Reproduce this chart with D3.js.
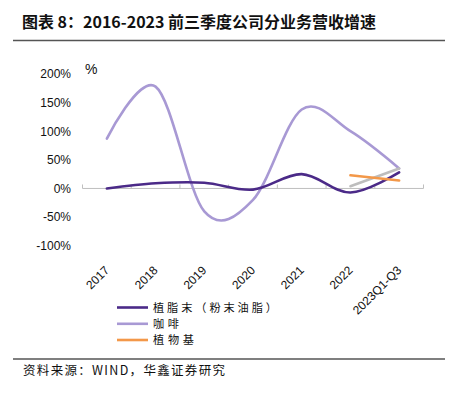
<!DOCTYPE html>
<html><head><meta charset="utf-8">
<script src="https://cdn.jsdelivr.net/npm/d3@7"></script>
<style>
body{margin:0;background:#fff;}
svg{display:block;}
</style></head>
<body>
<svg id="c" width="453" height="396"></svg>
<script>
const categories = ["2017","2018","2019","2020","2021","2022","2023Q1-Q3"];
const creamer = [0, 9, 10, -2, 25, -7, 28];
const coffee = [87, 178, -40, -20, 138, 100, 35];
const plantBased = [null, null, null, null, null, 23, 14];
const other = [null, null, null, null, null, 4, 35];
const yTicks = [-100, -50, 0, 50, 100, 150, 200];
const seriesNames = ["植脂末（粉末油脂）", "咖啡", "植物基"];
const colors = ["#4B2A88", "#A899D4", "#F39849", "#BDBDBD"];

const svg = d3.select("#c");
const cjk = "'Noto Sans CJK SC', sans-serif";
const lat = "'Liberation Sans', Arial, sans-serif";

// Title
svg.append("text").attr("x", 22).attr("y", 28)
  .attr("font-family", cjk).attr("font-weight", "bold").attr("font-size", 15.5)
  .attr("fill", "#111").attr("textLength", 354).attr("lengthAdjust", "spacingAndGlyphs")
  .text("图表 8：2016-2023 前三季度公司分业务营收增速");
svg.append("line").attr("x1", 13).attr("x2", 445).attr("y1", 40.5).attr("y2", 40.5)
  .attr("stroke", "#555").attr("stroke-width", 1.5);

const x = d3.scaleBand().domain(categories).range([82.5, 423.5]).padding(0);
const y = d3.scaleLinear().domain([-100, 200]).range([245.7, 74]);
const cx = d => x(d) + x.bandwidth() / 2;

// y labels
svg.append("g").selectAll("text").data(yTicks).join("text")
  .attr("x", 71).attr("y", d => y(d)).attr("dy", "0.36em")
  .attr("text-anchor", "end").attr("font-family", lat).attr("font-size", 12)
  .attr("fill", "#111").text(d => d + "%");
svg.append("text").attr("x", 85).attr("y", 74).attr("font-family", lat)
  .attr("font-size", 14).attr("fill", "#111").text("%");

// x axis at zero
const y0 = y(0);
svg.append("line").attr("x1", 82.5).attr("x2", 423.5).attr("y1", y0).attr("y2", y0)
  .attr("stroke", "#BFBFBF").attr("stroke-width", 1);
const bounds = categories.map(c => x(c)).concat([x(categories[categories.length-1]) + x.bandwidth()]);
svg.append("g").selectAll("line").data(bounds).join("line")
  .attr("x1", d => d).attr("x2", d => d).attr("y1", y0 - 4).attr("y2", y0)
  .attr("stroke", "#BFBFBF").attr("stroke-width", 1);

// x labels
svg.append("g").selectAll("text").data(categories).join("text")
  .attr("transform", d => `translate(${cx(d) + 3},${271}) rotate(-45)`)
  .attr("text-anchor", "end").attr("font-family", lat).attr("font-size", 12)
  .attr("fill", "#111").text(d => d);

// lines
const line = d3.line()
  .defined(d => d.v !== null)
  .x(d => cx(d.c)).y(d => y(d.v))
  .curve(d3.curveCardinal.tension(0));
const series = [creamer, coffee, plantBased, other];
const order = [1, 0, 3, 2];
order.forEach(i => {
  const pts = categories.map((c, j) => ({c, v: series[i][j]})).filter(d => d.v !== null);
  svg.append("path").datum(pts).attr("d", line)
    .attr("fill", "none").attr("stroke", colors[i]).attr("stroke-width", 2.6)
    .attr("stroke-linecap", "round");
});

// legend
const ly = [307.5, 323.8, 340];
const lw = [124, 26, 41];
seriesNames.forEach((n, i) => {
  svg.append("line").attr("x1", 117).attr("x2", 148).attr("y1", ly[i]).attr("y2", ly[i])
    .attr("stroke", colors[i]).attr("stroke-width", 2.6);
  svg.append("text").attr("x", 153).attr("y", ly[i]).attr("dy", "0.36em")
    .attr("font-family", cjk).attr("font-size", 11.2).attr("fill", "#111")
    .attr("textLength", lw[i]).attr("lengthAdjust", "spacing").text(n);
});

// bottom line & source
svg.append("line").attr("x1", 13).attr("x2", 445).attr("y1", 359).attr("y2", 359)
  .attr("stroke", "#555").attr("stroke-width", 1.5);
svg.append("text").attr("x", 23).attr("y", 370).attr("dy", "0.36em")
  .attr("font-family", cjk).attr("font-size", 12.5).attr("fill", "#111")
  .attr("textLength", 202).attr("lengthAdjust", "spacing")
  .text("资料来源：WIND，华鑫证券研究");
</script>
</body></html>
